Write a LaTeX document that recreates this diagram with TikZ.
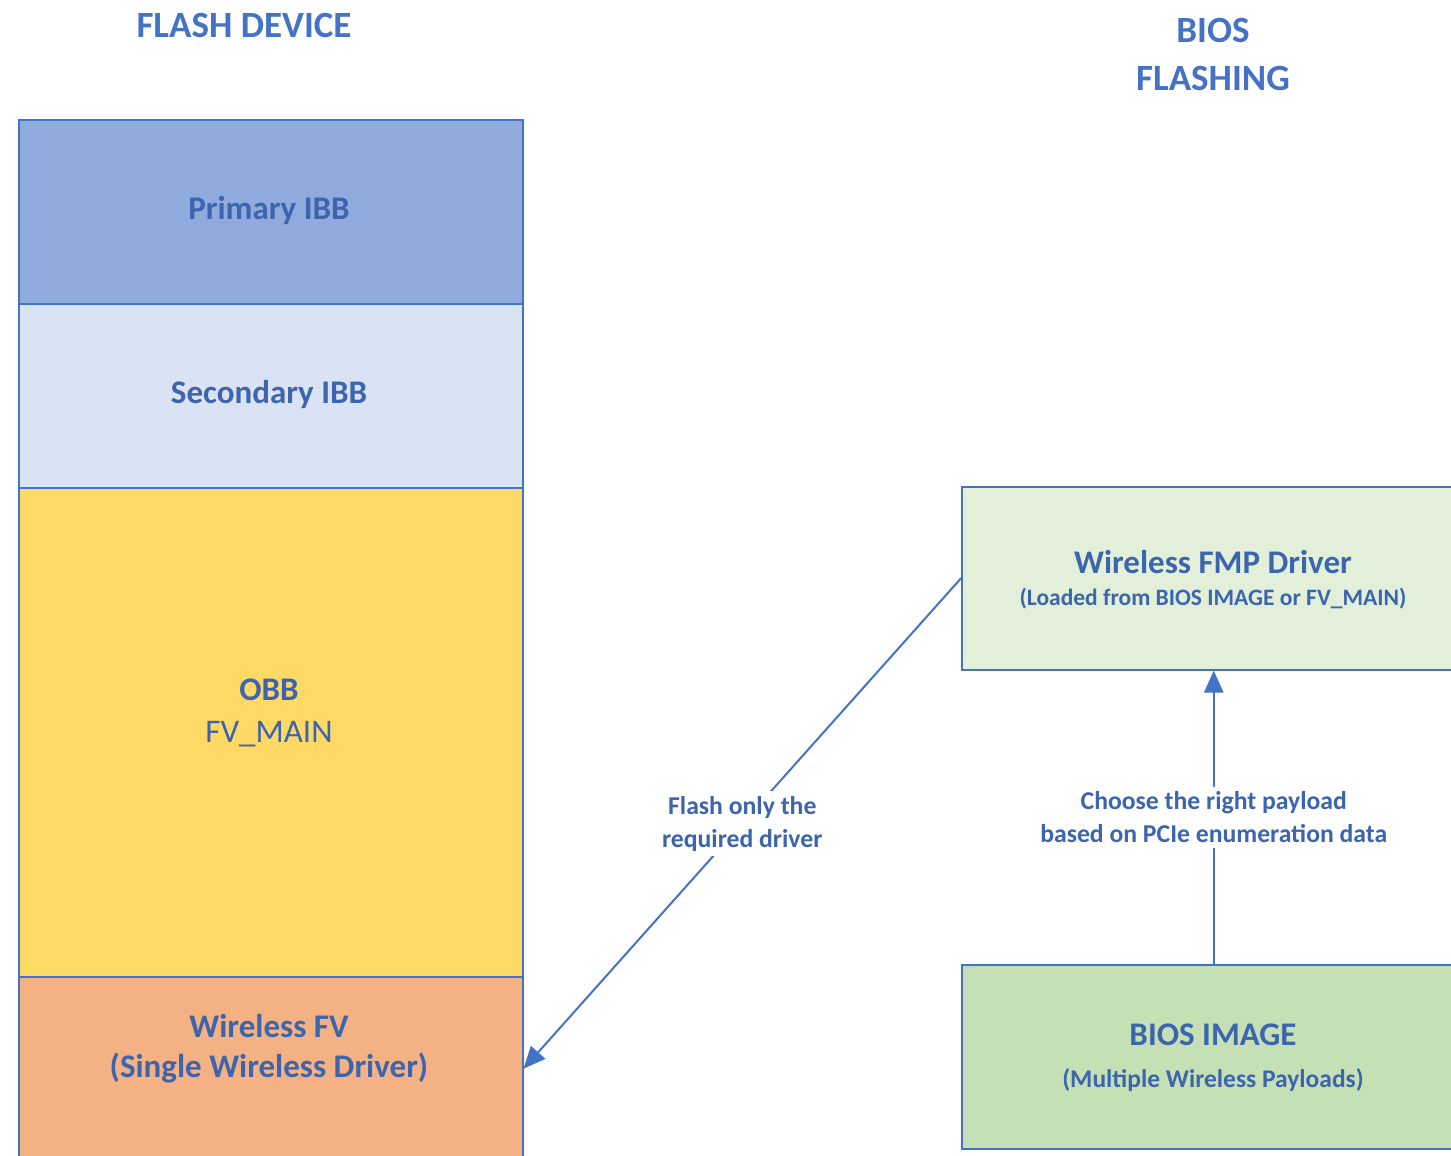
\documentclass[tikz,border=0pt]{standalone}
\usepackage{fontspec}
\setmainfont{Carlito}
\usetikzlibrary{arrows.meta}
\definecolor{edgeblue}{HTML}{4472C4}
\definecolor{textblue}{HTML}{3D65AE}
\definecolor{titleblue}{HTML}{4472C4}
\definecolor{ibbfill}{HTML}{8FAADC}
\definecolor{secfill}{HTML}{DAE3F3}
\definecolor{obbfill}{HTML}{FFD966}
\definecolor{wfvfill}{HTML}{F4B183}
\definecolor{fmpfill}{HTML}{E2F0D9}
\definecolor{biosfill}{HTML}{C5E0B4}
\newcommand{\fsz}[2]{\fontsize{#1}{#2}\selectfont}
\tikzset{
  region/.style={draw=edgeblue, line width=1.5pt, minimum width=504pt, inner sep=0pt, anchor=north west},
  boxtext/.style={text=textblue, font=\bfseries\fsz{33}{40}, inner sep=0pt},
  subtext/.style={text=textblue, font=\bfseries\fsz{23.5}{28}, inner sep=0pt},
  title/.style={text=titleblue, font=\bfseries\fsz{37}{48}, inner sep=0pt, align=center},
  flowlabel/.style={fill=white, text=textblue, font=\bfseries\fsz{25.7}{33}, align=center, inner sep=5pt},
  flow/.style={draw=edgeblue, line width=2pt, -{Triangle[length=22pt,width=19pt]}}
}
\begin{document}
\begin{tikzpicture}[x=1pt,y=-1pt]
\useasboundingbox (0,0) rectangle (1451,1156);
\clip (0,0) rectangle (1451,1156);
\fill[white] (0,0) rectangle (1451,1156);

% headings
\node[title] (hflash) at (244,25) {FLASH DEVICE};
\node[title, text width=300pt] (hbios) at (1213,54) {BIOS\\FLASHING};

% flash device layout
\node[region, fill=ibbfill, minimum height=184pt] (pibb) at (18,119) {};
\node[region, fill=secfill, minimum height=184pt] (sibb) at (18,303) {};
\node[region, fill=obbfill, minimum height=489pt] (obb) at (18,487) {};
\node[region, fill=wfvfill, minimum height=184pt] (wfv) at (18,976) {};

\node[boxtext] (tpibb) at (269,211) {Primary IBB};
\node[boxtext] (tsibb) at (269,395) {Secondary IBB};
\node[boxtext] (tobb) at (269,690) {OBB};
\node[boxtext, font=\fsz{33}{40}] (tfvmain) at (269,734) {FV\_MAIN};
\node[boxtext] (twfv1) at (269,1026) {Wireless FV};
\node[boxtext] (twfv2) at (269,1068) {(Single Wireless Driver)};

% BIOS flashing side
\node[region, fill=fmpfill, minimum height=183pt] (fmp) at (961,486) {};
\node[region, fill=biosfill, minimum height=184pt] (bios) at (961,964) {};

\node[boxtext] (tfmp1) at (1213,562) {Wireless FMP Driver};
\node[subtext] (tfmp2) at (1213,599) {(Loaded from BIOS IMAGE or FV\_MAIN)};
\node[boxtext] (tbios1) at (1213,1035) {BIOS IMAGE};
\node[subtext, font=\bfseries\fsz{25.5}{30}] (tbios2) at (1213,1080) {(Multiple Wireless Payloads)};

% connectors
\draw[flow] (fmp.west) -- (wfv.east)
  node[flowlabel, pos=0.5] (lflash) {Flash only the\\required driver};
\draw[flow] (bios.north) -- (fmp.south)
  node[flowlabel, pos=0.5] (lchoose) {Choose the right payload\\based on PCIe enumeration data};
\end{tikzpicture}
\end{document}
